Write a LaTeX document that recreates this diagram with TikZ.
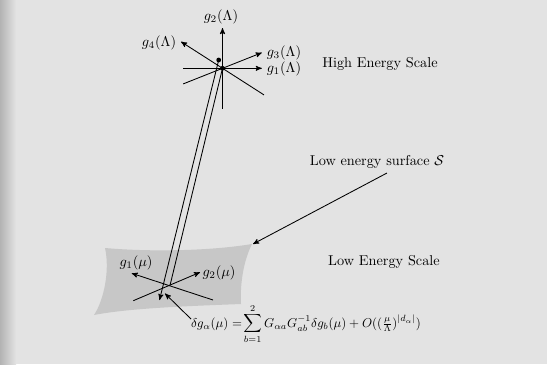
\documentclass[tikz,border=0pt]{standalone}
\usepackage{amsmath}
\usetikzlibrary{
    calc,
    arrows
}
\definecolor{paper}{gray}{0.89}
\definecolor{sheet}{gray}{0.78}
\tikzset{
  every path/.style={
    line width=0.6pt
  },
  every node/.style={
    inner sep=1pt
  },
  >=stealth'
}

\begin{document}
\begin{tikzpicture}[x=0.7pt,y=-0.7pt]
\useasboundingbox (0,0) rectangle (547,364);
\fill[paper] (0,0) rectangle (547,364);
\shade[left color=black!30,right color=paper] (0,0) rectangle (16,364);
\fill[sheet] (105,248) .. controls (150,252) and (210,251) .. (252,244)
  .. controls (243,262) and (240,285) .. (241,304)
  .. controls (190,306) and (130,308) .. (94,315)
  .. controls (104,300) and (110,270) .. (105,248) -- cycle;
\coordinate (sc) at (253,244);
% high energy point
\coordinate (hub) at (222.5,68.3);
\coordinate (hubb) at (218.7,60);
\coordinate (a1) at (261.8,68.3);
\coordinate (a2) at (222.5,28);
\coordinate (a3) at (261.8,52.7);
\coordinate (a4) at (181,41.7);
\foreach \i in {1,...,4} {
\draw[->] ($(hub)!-1!(a\i)$) -- (a\i);
}
\fill (hub) circle (2.4);
\fill (hubb) circle (2.4);
\node (g1L) at (284,68.5) {$g_1(\Lambda)$};
\node (g2L) at (221,17) {$g_2(\Lambda)$};
\node (g3L) at (284,53) {$g_3(\Lambda)$};
\node (g4L) at (159,43) {$g_4(\Lambda)$};
\node (high) at (380,64) {High Energy Scale};
% low energy point
\coordinate (low) at (170,285.5);
\coordinate (b1) at (131.7,273.3);
\coordinate (b1t) at (213,300);
\coordinate (b2) at (200,272.3);
\coordinate (b2t) at (133.3,300.7);
\draw[->] (b1t) -- (b1);
\draw[->] (b2t) -- (b2);
\node (g1m) at (136,263) {$g_1(\mu)$};
\node (g2m) at (219,273) {$g_2(\mu)$};
\node (lowL) at (384,262) {Low Energy Scale};
% flow
\coordinate (end) at (159.5,300);
\draw[->] (hubb) -- (end);
\draw (hub) -- (low);
\node (surfL) at (377,162) {Low energy surface $\mathcal{S}$};
\coordinate (surft) at (387,173);
\draw[->] (surft) -- (sc);
\node[scale=0.9] (eq) at (306,324) {$\displaystyle \delta g_\alpha(\mu) =\!\sum_{b=1}^{2} G_{\alpha a}G^{-1}_{ab}\delta g_b(\mu) + O((\tfrac{\mu}{\Lambda})^{|d_\alpha|})$};
\coordinate (eqt) at (191,319);
\coordinate (lowt) at (165,293.5);
\draw[->] (eqt) -- (lowt);
\end{tikzpicture}
\end{document}
